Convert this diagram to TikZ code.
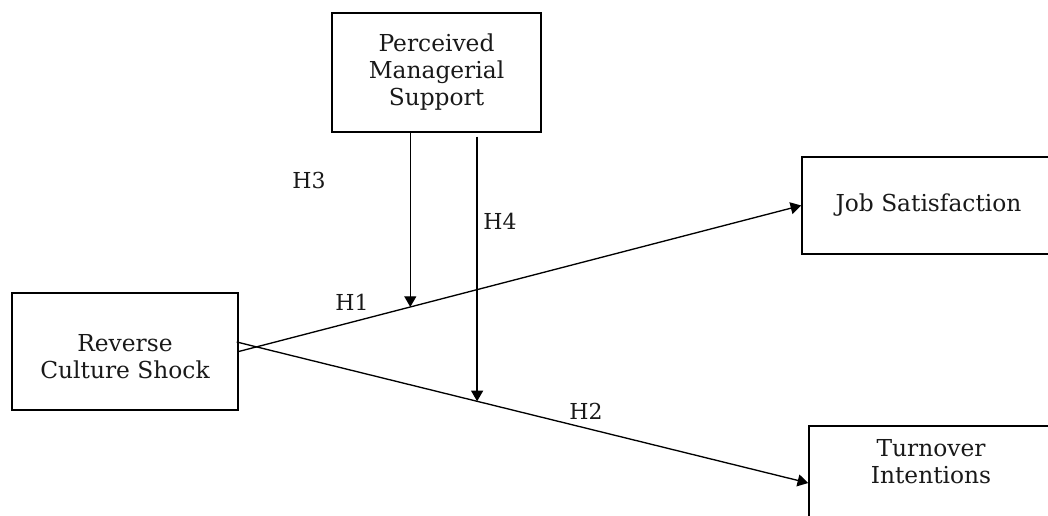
\documentclass[tikz,border=0pt]{standalone}
\usepackage{fontspec}
\setmainfont{DejaVu Serif}
\usetikzlibrary{arrows.meta,calc,positioning}
\begin{document}
\begin{tikzpicture}[x=0.75pt,y=-0.75pt,
    box/.style={draw, line width=1.1pt, inner sep=0pt, align=center,
        font=\fontsize{17.5}{20.25}\selectfont, text=black!90},
    link/.style={-{Triangle[width=9pt,length=8pt]}, line width=1pt},
    tag/.style={font=\fontsize{16.5}{18}\selectfont, text=black!90}]
\useasboundingbox (0,0) rectangle (1048,516);
\clip (0,0) rectangle (1048,516);
\node[box, minimum width=169.5pt, minimum height=87.75pt] (rcs) at (125,351.5) {};
\node[box, draw=none, yshift=-3.5pt] (rcstext) at (rcs.center) {Reverse\\Culture Shock};
\node[box, minimum width=156.75pt, minimum height=89.25pt] (pms) at (436.5,72.5) {Perceived\\Managerial\\Support};
\node[box, minimum width=189.75pt, minimum height=72.75pt] (js) at (928.5,205.5) {Job Satisfaction};
\node[box, minimum width=183pt, minimum height=85.5pt] (tibox) at (931,483) {};
\node[box, draw=none, below=10pt of tibox.north] (ti) {Turnover\\Intentions};
\coordinate (h2start) at ($(rcs.east)+(-2,-9.5)$);
\path (rcs.east) -- (js.west) coordinate[pos=0.305] (m1);
\path (h2start) -- (tibox.west) coordinate[pos=0.4206] (m2);
\draw[link] (rcs.east) -- (js.west);
\draw[link] (h2start) -- (tibox.west);
\draw[link] (pms.south -| m1) -- (m1);
\draw[link] ([yshift=-3pt]pms.south -| m2) -- (m2);
\node[tag] (h1) at (352,302) {H1};
\node[tag] (h2) at (586,411) {H2};
\node[tag] (h3) at (309,180) {H3};
\node[tag] (h4) at (500,221) {H4};
\end{tikzpicture}
\end{document}
